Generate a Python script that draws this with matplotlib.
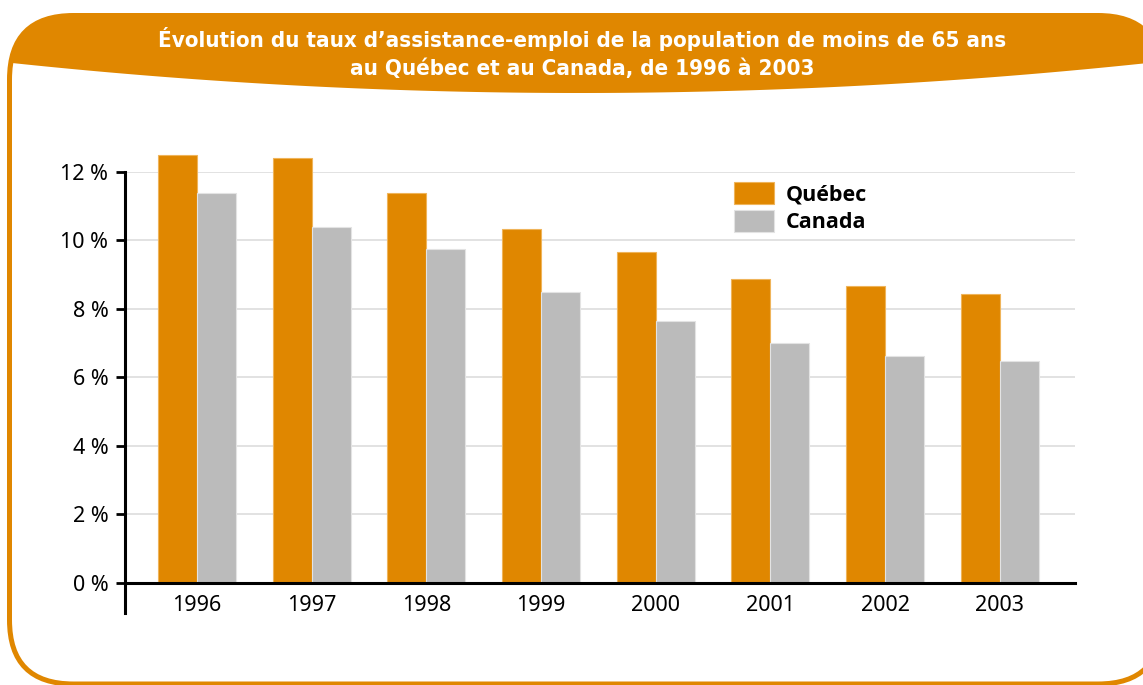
import matplotlib
matplotlib.use('Agg')
import matplotlib.pyplot as plt
import numpy as np
from matplotlib.patches import FancyBboxPatch, Polygon

# données
annees = ['1996', '1997', '1998', '1999', '2000', '2001', '2002', '2003']
quebec = [12.5, 12.4, 11.4, 10.35, 9.65, 8.88, 8.66, 8.43]
canada = [11.4, 10.4, 9.75, 8.5, 7.65, 7.0, 6.64, 6.47]
y_ticks = [0, 2, 4, 6, 8, 10, 12]
series = ['Québec', 'Canada']

orange = '#E08700'
gris = '#BBBBBB'
titre = 'Évolution du taux d’assistance-emploi de la population de moins de 65 ans\nau Québec et au Canada, de 1996 à 2003'

plt.rcParams['font.family'] = ['Noto Sans', 'DejaVu Sans']

W, H = 1143, 685
fig = plt.figure(figsize=(W / 100, H / 100), dpi=100)

# cadre décoratif (coordonnées en pixels)
bg = fig.add_axes([0, 0, 1, 1], zorder=0)
bg.set_xlim(0, W)
bg.set_ylim(H, 0)
bg.axis('off')
cadre = FancyBboxPatch((9.5, 15.5), 1162 - 9.5, 684 - 15.5,
                       boxstyle='round,pad=0,rounding_size=64',
                       facecolor='white', edgecolor=orange, linewidth=3.6)
bg.add_patch(cadre)
xs = np.linspace(-20, W + 40, 200)
courbe = 93 - 30 * ((xs - 580) / 568) ** 2
bande = Polygon(list(zip(xs, courbe)) + [(W + 40, -10), (-20, -10)],
                closed=True, facecolor=orange, edgecolor='none')
bg.add_patch(bande)
bande.set_clip_path(cadre)
bg.text(582, 53, titre, color='white', fontsize=16, fontweight='bold',
        family='DejaVu Sans', fontstretch='condensed',
        ha='center', va='center', linespacing=1.5)

# graphique
ax = fig.add_axes([125 / W, 1 - 613 / H, 950 / W, 441 / H], zorder=1)
ax.patch.set_alpha(0)
x = np.arange(len(annees))
w = 0.34
ax.bar(x - w / 2, quebec, w, color=orange, edgecolor='#EFB45A', linewidth=0.8,
       label=series[0], zorder=3, clip_on=False)
ax.bar(x + w / 2, canada, w, color=gris, edgecolor='#E3E3E3', linewidth=0.8,
       label=series[1], zorder=3, clip_on=False)

ax.set_xlim(-0.628, 7.655)
ax.set_ylim(-0.876, 12)
ax.set_yticks(y_ticks)
ax.set_yticklabels([f'{v} %' for v in y_ticks])
ax.set_xticks(x)
ax.set_xticklabels(annees)

for v in y_ticks[1:]:
    ax.axhline(v, color='#E2E2E2', linewidth=1.4, zorder=1)

for s in ['top', 'right']:
    ax.spines[s].set_visible(False)
ax.spines['bottom'].set_position(('data', 0))
ax.spines['bottom'].set_linewidth(2.2)
ax.spines['left'].set_linewidth(2.2)
ax.spines['bottom'].set_zorder(4)
ax.tick_params(axis='y', length=6.5, width=2, pad=5.5, labelsize=15.5)
ax.tick_params(axis='x', length=0, pad=8.5, labelsize=15.5)

fig.legend(loc='upper left', bbox_to_anchor=(734 / W, 1 - 182 / H), frameon=False,
           borderpad=0, borderaxespad=0, handlelength=1.85, handleheight=1.2,
           handletextpad=0.55, labelspacing=0.2,
           prop={'family': ['Open Sans', 'DejaVu Sans'], 'size': 15.5, 'weight': 'bold'})

fig.savefig('out.png', dpi=100)
